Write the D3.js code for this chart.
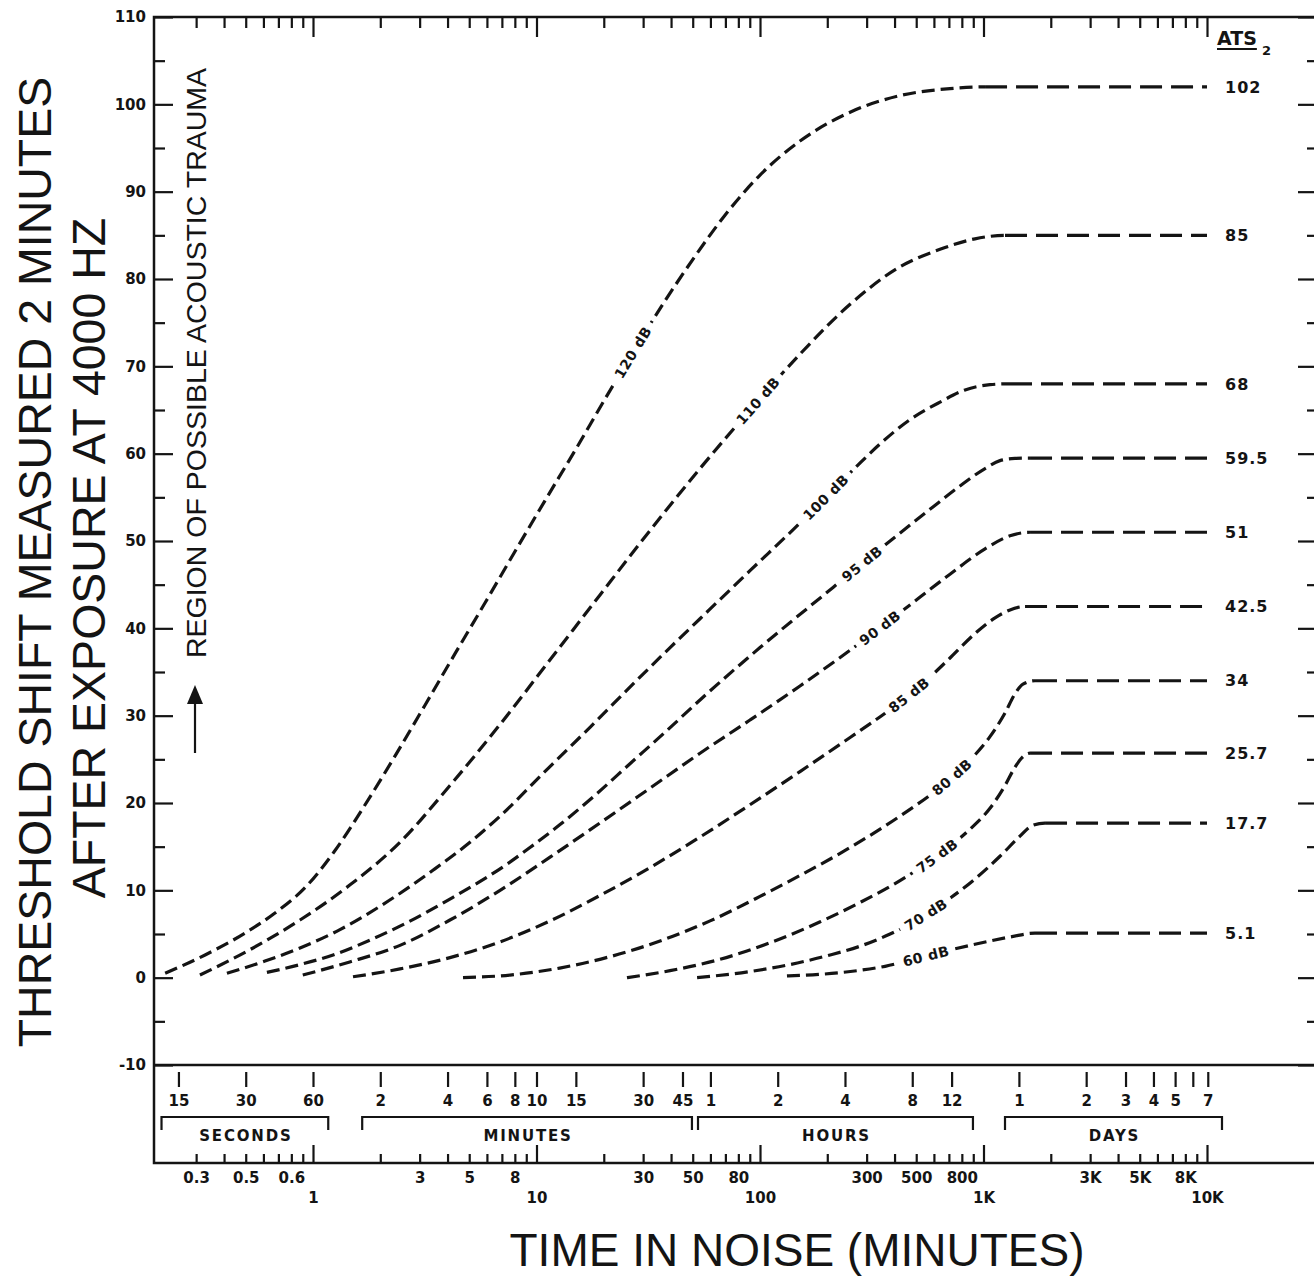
<!DOCTYPE html>
<html>
<head>
<meta charset="utf-8">
<script src="https://cdn.jsdelivr.net/npm/d3@7"></script>
<style>
  body { margin: 0; background: #fff; }
  svg { display: block; }
</style>
</head>
<body>
<div id="chart"></div>
<script>
// exposure levels and their asymptotic threshold shift (ATS2)
const levels = ["120 dB", "110 dB", "100 dB", "95 dB", "90 dB", "85 dB", "80 dB", "75 dB", "70 dB", "60 dB"];
const atsValues = [102, 85, 68, 59.5, 51, 42.5, 34, 25.7, 17.7, 5.1];
const atsLabels = ["102", "85", "68", "59.5", "51", "42.5", "34", "25.7", "17.7", "5.1"];
// minute on each curve where its level label sits
const labelAt = [27, 98, 197, 286, 344, 464, 723, 620, 553, 553];
const plateauEnd = 10000;

// rising part of each curve, [minutes in noise, dB shift]
const c120 = [[0.218,0.5],[0.329,2.6],[0.496,5.1],[0.676,7.4],[0.921,10.3],[1.25,14.5],[1.71,19.8],[2.33,25.4],[3.17,31.2],[4.32,37.1],[5.88,42.9],[8.01,48.8],[10.9,54.6],[14.9,60.4],[20.3,66.3],[27.6,72],[37.6,77.5],[51.2,82.6],[69.7,87.3],[100,91.9],[151,95.8],[253,99.1],[423,101],[708,101.8],[1016,102]];
const c110 = [[0.312,0.3],[0.522,3.2],[0.875,6.6],[1.46,10.6],[2.45,15.5],[4.1,22],[6.87,29],[11.5,36.4],[19.2,43.8],[32.2,51.2],[53.9,58.3],[90.2,65],[151,71.4],[253,77.1],[423,81.4],[639,83.4],[916,84.6],[1248,85]];
const c100 = [[0.412,0.5],[0.61,1.9],[0.875,3.4],[1.32,5.5],[2.06,8.4],[3.44,12.3],[5.04,15.5],[6.87,18.5],[11.1,23.8],[17.4,28.7],[27,33.6],[39.6,37.8],[53.9,41.1],[90.2,46.6],[146,51.7],[206,55.5],[272,58.6],[344,61.1],[469,63.9],[639,65.9],[827,67.3],[1069,67.9],[1314,68]];
const c95 = [[0.622,0.6],[0.875,1.5],[1.23,2.6],[1.8,4.3],[2.45,5.9],[4.23,9.2],[7.38,13],[9.35,14.9],[12.7,17.5],[18.3,20.9],[26.2,24.5],[37.6,28.1],[53.9,31.8],[100,37.8],[199,44.1],[382,50],[594,53.9],[785,56.3],[1016,58.3],[1185,59.2],[1383,59.45],[1615,59.5]];
const c90 = [[0.9,0.3],[1.46,1.8],[2.45,3.7],[4.1,6.6],[6.87,10],[11.5,13.8],[19.2,17.7],[32.2,21.7],[53.9,25.7],[90.2,29.5],[151,33.4],[253,37.5],[423,41.8],[708,46.2],[1016,49.1],[1314,50.6],[1615,51]];
const c85 = [[1.51,0.1],[2.45,1],[4.1,2.3],[6.87,4.1],[11.5,6.5],[19.2,9.4],[32.2,12.6],[53.9,16.1],[90.2,19.8],[151,23.6],[253,27.5],[382,30.7],[520,33.4],[708,36.6],[916,39.4],[1126,41.2],[1314,42.1],[1534,42.5]];
const c80 = [[4.69,0],[7.61,0.3],[12.7,1.1],[21.3,2.4],[35.7,4.2],[59.8,6.5],[100,9.3],[151,11.7],[253,14.9],[423,18.5],[639,21.8],[870,24.9],[1069,27.6],[1248,30.3],[1383,32.5],[1502,33.6],[1700,34]];
const c75 = [[25.4,0],[39.6,0.8],[66.2,2.1],[111,4],[186,6.4],[280,8.6],[423,11.1],[639,14.2],[870,17],[1069,19.4],[1248,22],[1383,24.1],[1487,25.2],[1615,25.7]];
const c70 = [[52.3,0],[90.2,0.7],[136,1.5],[206,2.6],[280,3.6],[382,5],[520,6.8],[708,9.1],[916,11.3],[1185,13.9],[1456,16.2],[1648,17.4],[1885,17.7]];
const c60 = [[132,0.2],[191,0.4],[272,0.8],[363,1.3],[520,2.3],[746,3.3],[1069,4.2],[1341,4.7],[1700,5.1]];
const curves = [c120, c110, c100, c95, c90, c85, c80, c75, c70, c60];

// y axis ticks
const yMajor = [-10, 0, 10, 20, 30, 40, 50, 60, 70, 80, 90, 100, 110];
const yMinor = [-5, 5, 15, 25, 35, 45, 55, 65, 75, 85, 95, 105];

// minute scale (bottom)
const decades = [1, 10, 100, 1000, 10000];
const decadeLabels = ["1", "10", "100", "1K", "10K"];
const minuteLabelValues = [0.3, 0.5, 0.8, 3, 5, 8, 30, 50, 80, 300, 500, 800, 3000, 5000, 8000];
const minuteLabelTexts = ["0.3", "0.5", "0.6", "3", "5", "8", "30", "50", "80", "300", "500", "800", "3K", "5K", "8K"];

// time unit row
const secTicks = [15, 30, 60];
const minTicks = [2, 4, 6, 8, 10, 15, 30, 45];
const hourTicks = [1, 2, 4, 8, 12];
const dayTicks = [1, 2, 3, 4, 5, 6, 7];
const unitNames = ["SECONDS", "MINUTES", "HOURS", "DAYS"];
const unitSpans = [[0.21, 1.17], [1.66, 49.6], [52.8, 897], [1248, 11670]];

const W = 1314, H = 1281;
const xLeft = 154, xRight = 1316, yTop = 17, yLow = 1065, yBase = 1163;
const ink = "#141414";
const tickFont = "'DejaVu Sans', sans-serif";
const titleFont = "'Liberation Sans', Arial, sans-serif";

const x = d3.scaleLog().domain([1, 10000]).range([313, 1207]);
const y = d3.scaleLinear().domain([-10, 110]).range([yLow, yTop]);

const svg = d3.select("#chart").append("svg")
  .attr("width", W)
  .attr("height", H);

function styleAxis(g, size) {
  g.select(".domain").remove();
  g.attr("font-family", null).attr("font-size", null);
  g.selectAll(".tick line").attr("stroke", ink).attr("stroke-width", 2.2);
  g.selectAll(".tick text")
    .attr("fill", ink)
    .style("font-family", tickFont)
    .style("font-weight", "bold")
    .style("font-size", (size || 15) + "px");
}

// frame
svg.append("rect")
  .attr("x", xLeft).attr("y", yTop)
  .attr("width", xRight - xLeft).attr("height", yBase - yTop)
  .attr("fill", "none").attr("stroke", ink).attr("stroke-width", 2.5);
svg.append("line")
  .attr("x1", xLeft).attr("x2", xRight).attr("y1", yLow).attr("y2", yLow)
  .attr("stroke", ink).attr("stroke-width", 2.5);

// left axis
svg.append("g").attr("transform", `translate(${xLeft},0)`)
  .call(d3.axisLeft(y).tickValues(yMajor).tickSizeInner(-19).tickSizeOuter(0).tickPadding(8).tickFormat(d => String(d)))
  .call(g => styleAxis(g, 15));
svg.append("g").attr("transform", `translate(${xLeft},0)`)
  .call(d3.axisLeft(y).tickValues(yMinor).tickSizeInner(-11).tickSizeOuter(0).tickFormat(""))
  .call(g => styleAxis(g));

// right axis ticks
svg.append("g").attr("transform", `translate(${xRight},0)`)
  .call(d3.axisRight(y).tickValues(yMajor).tickSizeInner(-18).tickSizeOuter(0).tickFormat(""))
  .call(g => styleAxis(g));
svg.append("g").attr("transform", `translate(${xRight},0)`)
  .call(d3.axisRight(y).tickValues(yMinor).tickSizeInner(-9).tickSizeOuter(0).tickFormat(""))
  .call(g => styleAxis(g));

// minor minute ticks 0.3 .. 9000
const minorMinutes = [0.1, 1, 10, 100, 1000]
  .flatMap(dec => [2, 3, 4, 5, 6, 7, 8, 9].map(k => +(dec * k).toPrecision(3)))
  .filter(v => v >= 0.3);

// top ticks
svg.append("g").attr("transform", `translate(0,${yTop})`)
  .call(d3.axisTop(x).tickValues(minorMinutes).tickSizeInner(-11).tickSizeOuter(0).tickFormat(""))
  .call(g => styleAxis(g));
svg.append("g").attr("transform", `translate(0,${yTop})`)
  .call(d3.axisTop(x).tickValues(decades).tickSizeInner(-20).tickSizeOuter(0).tickFormat(""))
  .call(g => styleAxis(g));

// bottom minute scale
const labelMap = new Map(minuteLabelValues.map((v, i) => [v, minuteLabelTexts[i]]));
svg.append("g").attr("transform", `translate(0,${yBase})`)
  .call(d3.axisBottom(x).tickValues(minorMinutes).tickSizeInner(-9).tickSizeOuter(0).tickPadding(9)
    .tickFormat(d => labelMap.get(d) || ""))
  .call(g => styleAxis(g, 15));
svg.append("g").attr("transform", `translate(0,${yBase})`)
  .call(d3.axisBottom(x).tickValues(decades).tickSizeInner(-18).tickSizeOuter(0).tickPadding(29)
    .tickFormat((d, i) => decadeLabels[i]))
  .call(g => styleAxis(g, 15));

// time units row
const unitTicks = [
  ...secTicks.map(s => ({ m: s / 60, t: String(s) })),
  ...minTicks.map(s => ({ m: s, t: String(s) })),
  ...hourTicks.map(s => ({ m: s * 60, t: String(s) })),
  ...dayTicks.map(s => ({ m: s * 1440, t: s === 6 ? "" : String(s) }))
];
svg.append("g").attr("transform", `translate(0,1072)`)
  .call(d3.axisBottom(x).tickValues(unitTicks.map(d => d.m)).tickSizeInner(15).tickSizeOuter(0).tickPadding(8)
    .tickFormat((d, i) => unitTicks[i].t))
  .call(g => styleAxis(g, 15));

const brackets = svg.append("g");
unitSpans.forEach((s, i) => {
  const x1 = x(s[0]), x2 = x(s[1]);
  brackets.append("path")
    .attr("d", `M${x1},1130V1117H${x2}V1130`)
    .attr("fill", "none").attr("stroke", ink).attr("stroke-width", 2.2);
  brackets.append("text")
    .attr("x", (x1 + x2) / 2 + 1).attr("y", 1141)
    .attr("text-anchor", "middle")
    .style("font-family", tickFont).style("font-weight", "bold").style("font-size", "15px")
    .style("letter-spacing", "1.8px")
    .attr("fill", ink)
    .text(unitNames[i]);
});

// curves: rising part (short dashes) runs smoothly into the plateau (long dashes)
const line = d3.line()
  .x(d => x(d[0]))
  .y(d => y(d[1]))
  .curve(d3.curveMonotoneX);

const defs = svg.append("defs");
const curveG = svg.append("g");
const paths = curves.map((pts, i) => {
  const last = pts[pts.length - 1];
  const xe = x(last[0]);
  defs.append("clipPath").attr("id", "rise" + i)
    .append("rect").attr("x", 0).attr("y", 0).attr("width", xe).attr("height", H);
  curveG.append("path")
    .datum([last, [plateauEnd, atsValues[i]]])
    .attr("d", line)
    .attr("fill", "none").attr("stroke", ink).attr("stroke-width", 3.2)
    .attr("stroke-dasharray", "22,9");
  return curveG.append("path")
    .datum(pts.concat([[plateauEnd, atsValues[i]]]))
    .attr("d", line)
    .attr("clip-path", `url(#rise${i})`)
    .attr("fill", "none").attr("stroke", ink).attr("stroke-width", 3.2)
    .attr("stroke-dasharray", "13,6");
});

// level labels along each curve, set in a gap cut out of the line
function lengthAtX(node, tx) {
  let lo = 0, hi = node.getTotalLength();
  for (let k = 0; k < 30; k++) {
    const mid = (lo + hi) / 2;
    if (node.getPointAtLength(mid).x < tx) lo = mid; else hi = mid;
  }
  return lo;
}
paths.forEach((p, i) => {
  const node = p.node();
  const L = lengthAtX(node, x(labelAt[i]));
  const c = node.getPointAtLength(L);
  const a = node.getPointAtLength(Math.max(0, L - 8));
  const b = node.getPointAtLength(L + 8);
  const ang = Math.atan2(b.y - a.y, b.x - a.x) * 180 / Math.PI;
  const g = svg.append("g")
    .attr("transform", `translate(${c.x},${c.y}) rotate(${ang})`);
  const gap = g.append("rect").attr("fill", "#fff");
  const t = g.append("text")
    .attr("text-anchor", "middle")
    .attr("dy", "0.36em")
    .style("font-family", tickFont).style("font-weight", "bold").style("font-size", "14px")
    .style("letter-spacing", "0.5px")
    .attr("fill", ink)
    .text(levels[i]);
  const w = t.node().getComputedTextLength();
  gap.attr("x", -w / 2 - 6).attr("y", -8).attr("width", w + 12).attr("height", 16);
});

// ATS values on the right
svg.append("g").selectAll("text")
  .data(atsValues)
  .join("text")
  .attr("x", 1225)
  .attr("y", d => y(d))
  .attr("dy", "0.36em")
  .style("font-family", tickFont).style("font-weight", "bold").style("font-size", "16px")
  .style("letter-spacing", "1px")
  .attr("fill", ink)
  .text((d, i) => atsLabels[i]);

const ats = svg.append("text")
  .attr("x", 1217).attr("y", 45)
  .style("font-family", tickFont).style("font-weight", "bold").style("font-size", "19px")
  .attr("fill", ink)
  .text("ATS");
const atsW = ats.node().getComputedTextLength();
svg.append("line")
  .attr("x1", 1217).attr("x2", 1217 + atsW).attr("y1", 49).attr("y2", 49)
  .attr("stroke", ink).attr("stroke-width", 2);
svg.append("text")
  .attr("x", 1217 + atsW + 5).attr("y", 55)
  .style("font-family", tickFont).style("font-weight", "bold").style("font-size", "13px")
  .attr("fill", ink)
  .text("2");

// titles
svg.append("text")
  .attr("transform", "translate(51,562) rotate(-90)")
  .attr("text-anchor", "middle")
  .style("font-family", titleFont).style("font-size", "46.5px")
  .attr("fill", ink)
  .text("THRESHOLD SHIFT MEASURED 2 MINUTES");
svg.append("text")
  .attr("transform", "translate(105,558) rotate(-90)")
  .attr("text-anchor", "middle")
  .style("font-family", titleFont).style("font-size", "46.5px")
  .attr("fill", ink)
  .text("AFTER EXPOSURE AT 4000 HZ");
svg.append("text")
  .attr("x", 797).attr("y", 1266)
  .attr("text-anchor", "middle")
  .style("font-family", titleFont).style("font-size", "46px")
  .attr("fill", ink)
  .text("TIME IN NOISE (MINUTES)");

svg.append("text")
  .attr("transform", "translate(206,363) rotate(-90)")
  .attr("text-anchor", "middle")
  .style("font-family", titleFont).style("font-size", "28.5px")
  .attr("fill", ink)
  .text("REGION OF POSSIBLE ACOUSTIC TRAUMA");

// arrow
svg.append("line")
  .attr("x1", 195).attr("x2", 195).attr("y1", 753).attr("y2", 700)
  .attr("stroke", ink).attr("stroke-width", 2.2);
svg.append("path")
  .attr("d", "M195,685L187,704L203,704Z")
  .attr("fill", ink);
</script>
</body>
</html>
